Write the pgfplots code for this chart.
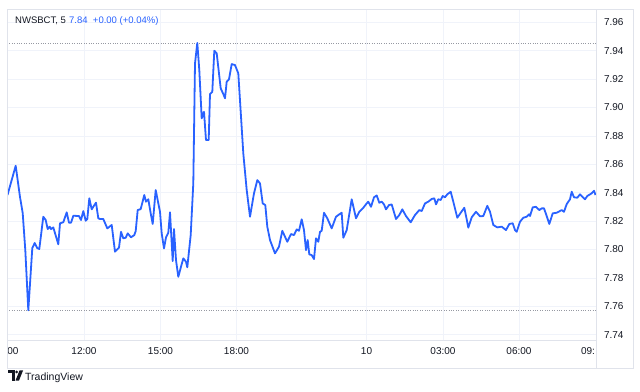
\documentclass[border=0pt]{standalone}
\usepackage{pgfplots}
\pgfplotsset{compat=1.18}
\usepackage{fontspec}
\setmainfont{Liberation Sans}
\definecolor{tvblue}{RGB}{41,98,255}
\definecolor{tvtext}{RGB}{19,23,34}
\definecolor{tvframe}{RGB}{224,227,235}
\definecolor{tvgrid}{RGB}{240,243,250}
\definecolor{tvdot}{RGB}{150,153,162}
\begin{document}
\begin{tikzpicture}[x=1pt,y=1pt]
\path[use as bounding box, fill=white] (0,0) rectangle (640,391);
\begin{axis}[
  at={(7pt,51pt)}, anchor=south west,
  scale only axis, width=589pt, height=331pt,
  xmin=7, xmax=596, ymin=7.7363, ymax=7.9694,
  axis line style={draw=tvframe},
  major tick length=0pt,
  tick style={draw=none},
  grid=major, grid style={draw=tvgrid, line width=0.8pt},
  xtick={84,160.5,236.5,366.5,443,519},
  xticklabels={12:00,15:00,18:00,10,03:00,06:00},
  extra x ticks={13,588},
  extra x tick labels={00,09:},
  extra x tick style={grid=none},
  xticklabel style={font=\fontsize{10}{12}\selectfont, text=tvtext, yshift=-3.5pt},
  ytick={7.74,7.76,7.78,7.80,7.82,7.84,7.86,7.88,7.90,7.92,7.94,7.96},
  yticklabel pos=right,
  yticklabel style={font=\fontsize{10}{12}\selectfont, text=tvtext, anchor=west, xshift=4.5pt,
    /pgf/number format/.cd, fixed, fixed zerofill, precision=2, assume math mode=true},
]
\addplot[tvdot, dash pattern=on 0.8pt off 1.6pt, line width=0.7pt] coordinates {(7,7.9455) (596,7.9455)};
\addplot[tvdot, dash pattern=on 0.8pt off 1.6pt, line width=0.7pt] coordinates {(7,7.7572) (596,7.7572)};
\addplot[tvblue, line width=1.8pt, line join=round] coordinates {
(7.5,7.8384)(15.7,7.859)(20,7.837)(22.7,7.8257)(25.3,7.7996)(28.3,7.7572)(32.3,7.801)
(34.7,7.8046)(37.3,7.801)(39.3,7.8004)(43.3,7.8231)(45.7,7.8208)(47.7,7.8144)(49.7,7.8161)
(51,7.8144)(53.3,7.8156)(58.3,7.8037)(60,7.8185)(63.3,7.8192)(66.7,7.8262)(69,7.8189)
(71,7.8189)(73.3,7.8238)(79,7.8236)(81,7.8208)(83.3,7.8271)(85.7,7.8203)(87.3,7.8215)
(89.3,7.8361)(91.7,7.8283)(93.3,7.8301)(96,7.833)(98.3,7.822)(100,7.8215)(103.3,7.8215)
(107.3,7.8149)(111.7,7.8173)(115,7.7985)(119,7.8013)(121,7.8125)(123.3,7.8079)(125.7,7.8083)
(127.7,7.8114)(131,7.8086)(134.3,7.8102)(135.7,7.813)(137.7,7.8278)(140.7,7.8285)(144.3,7.8384)
(146,7.8337)(148.3,7.8354)(150.7,7.8255)(152.7,7.818)(155.7,7.8419)(160,7.8266)(161.7,7.8114)
(164,7.8008)(166,7.8086)(168.3,7.8118)(170,7.8262)(172.7,7.7919)(174,7.8144)(176,7.7926)
(178.3,7.7808)(181,7.7879)(183.3,7.7938)(186,7.7914)(187.3,7.7875)(190.7,7.8102)(193.3,7.8466)
(195,7.9311)(197.3,7.9455)(199.3,7.9264)(201.7,7.8924)(204,7.897)(206,7.8771)(208.7,7.8771)
(210,7.9095)(212.3,7.9111)(214.3,7.94)(216.7,7.9382)(220.7,7.9135)(223.3,7.9095)(225,7.9065)
(226.7,7.9182)(229,7.9199)(231.7,7.9306)(235,7.9299)(238.3,7.9241)(243.3,7.8677)(246.7,7.8419)
(250,7.8231)(254,7.8396)(257.3,7.8489)(260,7.8466)(262.7,7.8325)(265.3,7.8313)(267.3,7.8161)
(270,7.8067)(275,7.7973)(279,7.802)(282.3,7.8132)(287.3,7.8055)(291,7.8109)(294,7.8102)
(296.7,7.8142)(299,7.8132)(301.7,7.8213)(304,7.8137)(306,7.7996)(307.7,7.8067)(309.3,7.7966)
(311.7,7.7961)(314,7.7933)(316,7.8079)(318.3,7.8055)(320,7.8125)(321.7,7.8132)(324,7.8259)
(327.3,7.822)(331.7,7.8149)(336,7.8231)(339.3,7.8248)(341.7,7.8259)(343.3,7.8083)(346.7,7.8137)
(351.7,7.8354)(356,7.822)(359.3,7.8266)(363.3,7.8294)(366.7,7.8325)(368.3,7.8337)(371,7.8301)
(374,7.8368)(376.7,7.8381)(379.3,7.833)(381.7,7.8337)(384,7.8318)(386,7.8283)(389,7.8313)
(391.7,7.8318)(396,7.8215)(399.3,7.8243)(402.3,7.8283)(406,7.8236)(410.7,7.8192)(415,7.8243)
(419.3,7.8278)(421.7,7.8271)(425,7.8325)(428.3,7.8337)(431.7,7.8356)(434.3,7.8361)(436,7.8318)
(438.3,7.8354)(440.7,7.8349)(442.7,7.8377)(445,7.8368)(447.3,7.8389)(450.7,7.8407)(453.3,7.8337)
(457.3,7.8224)(460.7,7.8259)(464.3,7.8294)(466.7,7.8213)(468.3,7.8154)(471.7,7.8227)(476,7.8266)
(480,7.8234)(483.3,7.8236)(487.3,7.8308)(490,7.8266)(493.3,7.8173)(497.3,7.8156)(501.7,7.8161)
(506,7.8137)(509.3,7.818)(512.7,7.8185)(515,7.8137)(516.7,7.8125)(520,7.8196)(523.3,7.8224)
(526.7,7.8231)(529,7.8248)(530,7.8236)(532.7,7.8297)(536,7.8301)(539.3,7.8278)(541.7,7.829)
(544,7.829)(546.7,7.8236)(549.3,7.818)(552.7,7.8255)(556.7,7.8259)(561.7,7.8278)(564,7.8266)
(566.7,7.832)(570,7.8354)(571.7,7.8407)(574,7.8368)(577.3,7.8365)(580,7.8389)(581.7,7.8377)
(585,7.8354)(587.3,7.8377)(591.7,7.8396)(594,7.8414)(595.5,7.8384)
};
\end{axis}
% outer frame
\draw[tvframe, line width=0.8pt] (7,23) rectangle (633,382);
\draw[tvframe, line width=0.8pt] (596,23) -- (596,382);
\draw[tvframe, line width=0.8pt] (7,51) -- (596,51);
% legend text
\node[anchor=base west, inner sep=0pt, font=\fontsize{9.5}{11}\selectfont, text=tvtext] at (15,367) {NWSBCT, 5};
\node[anchor=base west, inner sep=0pt, font=\fontsize{9.5}{11}\selectfont, text=tvblue] at (69,367) {7.84\ \ +0.00 (+0.04\%)};
% TradingView logo
\fill[tvtext] (8,17.5) rectangle (14.5,20.5);
\fill[tvtext] (11.5,10.5) rectangle (14.5,20.5);
\fill[tvtext] (16.6,19) circle (1.5);
\fill[tvtext] (15.5,10.5) -- (19,10.5) -- (23,20.5) -- (19.5,20.5) -- cycle;
\node[anchor=base west, inner sep=0pt, font=\fontsize{10.5}{13}\selectfont, text=tvtext] at (25,11) {TradingView};
\end{tikzpicture}
\end{document}
